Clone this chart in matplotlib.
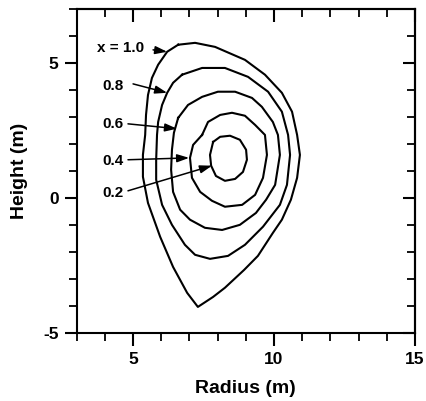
import matplotlib
matplotlib.use('Agg')
import matplotlib.pyplot as plt

plt.rcParams['font.family'] = ['Liberation Sans', 'DejaVu Sans']
plt.rcParams['font.weight'] = 'bold'
plt.rcParams['axes.unicode_minus'] = False

# Flux surface contours (radius, height)
r_10 = [6.60, 7.20, 7.91, 8.97, 9.68, 10.28, 10.64, 10.82, 10.92, 10.82, 10.60, 10.28, 9.96,
        9.43, 8.94, 8.26, 7.84, 7.30, 6.92, 6.42, 5.96, 5.53, 5.35, 5.35, 5.43, 5.46, 5.53,
        5.67, 5.89, 6.21]
z_10 = [5.67, 5.74, 5.59, 5.11, 4.56, 3.89, 3.19, 2.33, 1.59, 0.74, -0.07, -0.81, -1.30,
        -2.15, -2.67, -3.33, -3.67, -4.04, -3.52, -2.56, -1.44, -0.19, 0.78, 1.59, 2.33, 3.07,
        3.81, 4.44, 4.93, 5.41]

r_08 = [6.74, 7.45, 8.26, 9.08, 9.79, 10.28, 10.50, 10.57, 10.46, 10.21, 9.61, 8.97, 8.37,
        7.73, 7.20, 6.84, 6.38, 6.03, 5.82, 5.82, 5.85, 5.89, 6.03, 6.21, 6.42]
z_08 = [4.56, 4.81, 4.81, 4.48, 3.93, 3.19, 2.33, 1.59, 0.48, -0.26, -1.07, -1.74, -2.15,
        -2.26, -2.11, -1.74, -1.00, -0.26, 0.67, 1.41, 2.33, 2.81, 3.44, 3.89, 4.26]

r_06 = [6.60, 6.95, 7.45, 8.01, 8.62, 9.22, 9.57, 9.96, 10.14, 10.21, 10.04, 9.72, 9.36,
        8.79, 8.16, 7.55, 7.02, 6.67, 6.42, 6.35, 6.38, 6.45]
z_06 = [2.96, 3.44, 3.74, 3.93, 3.93, 3.70, 3.37, 2.81, 2.33, 1.59, 0.48, -0.07, -0.56,
        -1.00, -1.19, -1.11, -0.81, -0.44, 0.22, 1.04, 1.78, 2.41]

r_04 = [7.45, 7.66, 8.09, 8.51, 8.97, 9.33, 9.68, 9.75, 9.61, 9.33, 8.87, 8.26, 7.80, 7.38,
        7.09, 7.02, 7.13]
z_04 = [2.33, 2.81, 3.07, 3.15, 3.04, 2.70, 2.33, 1.59, 0.74, 0.11, -0.26, -0.33, -0.11, 0.22,
        0.74, 1.48, 1.96]

r_02 = [7.84, 8.09, 8.44, 8.79, 9.01, 9.04, 8.90, 8.62, 8.26, 7.94, 7.77, 7.73]
z_02 = [2.07, 2.26, 2.30, 2.15, 1.78, 1.41, 0.96, 0.70, 0.63, 0.81, 1.19, 1.59]

labels = ['x = 1.0', '0.8', '0.6', '0.4', '0.2']
label_pos = [(3.73, 5.56), (3.90, 4.15), (3.90, 2.74), (3.90, 1.37), (3.90, 0.19)]
arrow_from = [(5.71, 5.48), (5.00, 4.22), (4.82, 2.74), (4.82, 1.41), (4.82, 0.26)]
arrow_to = [(6.21, 5.41), (6.21, 3.89), (6.56, 2.56), (6.99, 1.48), (7.80, 1.19)]

fig = plt.figure(figsize=(4.26, 4.01), dpi=100)
ax = fig.add_axes([0.18, 0.17, 0.794, 0.808])

for r, z in [(r_10, z_10), (r_08, z_08), (r_06, z_06), (r_04, z_04), (r_02, z_02)]:
    ax.plot(r + r[:1], z + z[:1], color='black', lw=1.5)

for lab, p, a, b in zip(labels, label_pos, arrow_from, arrow_to):
    ax.text(p[0], p[1], lab, fontsize=11, fontweight='bold', ha='left', va='center')
    ax.annotate('', xy=b, xytext=a,
                arrowprops=dict(arrowstyle='-|>,head_length=0.9,head_width=0.3',
                                color='black', lw=1.1, mutation_scale=8,
                                shrinkA=0, shrinkB=0))

ax.set_xlim(3, 15)
ax.set_ylim(-5, 7)
ax.set_xticks([5, 10, 15])
ax.set_yticks([-5, 0, 5])
ax.set_xticks(range(3, 16), minor=True)
ax.set_yticks(range(-5, 8), minor=True)
ax.tick_params(which='major', direction='out', length=9, width=1.5, labelsize=12.5, pad=4)
ax.tick_params(which='minor', direction='out', length=5.5, width=1.3)
ax.tick_params(axis='x', pad=5)
for s in ax.spines.values():
    s.set_linewidth(1.5)

# inward ticks on top and right
top = ax.secondary_xaxis('top')
top.set_xticks([5, 10, 15])
top.set_xticks(range(3, 16), minor=True)
top.tick_params(which='major', direction='in', length=9, width=1.5, labeltop=False)
top.tick_params(which='minor', direction='in', length=5.5, width=1.3)
top.spines['top'].set_linewidth(1.5)
right = ax.secondary_yaxis('right')
right.set_yticks([-5, 0, 5])
right.set_yticks(range(-5, 8), minor=True)
right.tick_params(which='major', direction='in', length=9, width=1.5, labelright=False)
right.tick_params(which='minor', direction='in', length=5.5, width=1.3)
right.spines['right'].set_linewidth(1.5)

ax.set_xlabel('Radius (m)', fontsize=14, fontweight='bold', labelpad=9)
ax.set_ylabel('Height (m)', fontsize=14, fontweight='bold', labelpad=11)

fig.savefig('out.png', dpi=100)
